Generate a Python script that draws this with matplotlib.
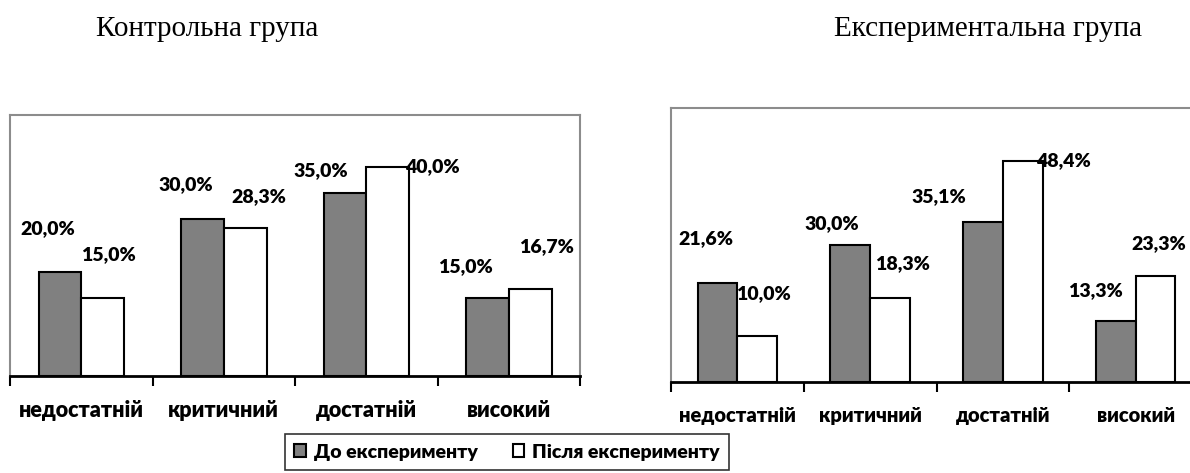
import numpy as np
import matplotlib.pyplot as plt

# data
levels = ["недостатній", "критичний", "достатній", "високий"]
ctrl_before = [20.0, 30.0, 35.0, 15.0]
ctrl_after = [15.0, 28.3, 40.0, 16.7]
exp_before = [21.6, 30.0, 35.1, 13.3]
exp_after = [10.0, 18.3, 48.4, 23.3]
series_names = ["До експерименту", "Після експерименту"]

# label offsets (pixels) as dragged around in the original
ctrl_off_b = [(-12, 43), (-17, 35), (-24, 23), (-22, 31)]
ctrl_off_a = [(6, 43), (14, 32), (45, 1), (16, 42)]
exp_off_b = [(-12, 45), (-18, 21), (-44, 25), (-20, 31)]
exp_off_a = [(6, 43), (12, 35), (41, 0), (3, 32)]

lab_font = ['Lato', 'DejaVu Sans']
dark = '#808080'

fig = plt.figure(figsize=(11.9, 4.73), dpi=100)


def draw(ax, before, after, off_b, off_a, ymax, fs_tick, pad):
    x = np.arange(len(levels))
    w = 0.3
    b1 = ax.bar(x - w/2, before, w, color=dark, edgecolor='black', linewidth=1.5)
    b2 = ax.bar(x + w/2, after, w, color='white', edgecolor='black', linewidth=1.5)
    for bars, vals, offs in ((b1, before, off_b), (b2, after, off_a)):
        for r, v, (dx, dy) in zip(bars, vals, offs):
            ax.annotate(f"{v:.1f}%".replace('.', ','),
                        (r.get_x() + r.get_width()/2, r.get_height()),
                        xytext=(dx, dy), textcoords='offset pixels',
                        ha='center', va='center', fontsize=14,
                        fontweight='heavy', family=lab_font)
    ax.set_xlim(-0.5, len(levels) - 0.5)
    ax.set_ylim(0, ymax)
    ax.set_yticks([])
    ax.set_xticks(x)
    ax.set_xticklabels(levels, fontsize=fs_tick, fontweight='heavy', family=lab_font)
    ax.tick_params(axis='x', length=0, pad=pad)
    # boundary ticks
    ax.set_xticks(np.arange(len(levels) + 1) - 0.5, minor=True)
    ax.tick_params(axis='x', which='minor', length=7, width=1.5, direction='out')
    for s in ('top', 'left', 'right'):
        ax.spines[s].set_color('#8c8c8c')
        ax.spines[s].set_linewidth(1.5)
    ax.spines['bottom'].set_linewidth(2)
    ax.spines['bottom'].set_color('black')
    return b1, b2


ax1 = fig.add_axes([10/1190, 1 - 376/473, 570/1190, 261/473])
h1, h2 = draw(ax1, ctrl_before, ctrl_after, ctrl_off_b, ctrl_off_a, 50, 15.5, 17)

ax2 = fig.add_axes([671/1190, 1 - 382/473, 531/1190, 274/473])
draw(ax2, exp_before, exp_after, exp_off_b, exp_off_a, 60, 14.5, 17)

fig.text(207/1190, 1 - 29/473, "Контрольна група", ha='center', va='center',
         fontsize=21, family='Liberation Serif')
fig.text(988/1190, 1 - 29/473, "Експериментальна група", ha='center', va='center',
         fontsize=21, family='Liberation Serif')

leg = fig.legend([h1, h2], series_names, loc='center',
                 bbox_to_anchor=(507/1190, 1 - 452/473), ncol=2,
                 prop={'family': lab_font, 'weight': 'heavy', 'size': 14},
                 handlelength=0.6, handleheight=0.6, handletextpad=0.4,
                 columnspacing=1.8, fancybox=False, borderpad=0.5)
leg.get_frame().set_edgecolor('black')
leg.get_frame().set_linewidth(1.2)

fig.savefig('out.png', dpi=100)
